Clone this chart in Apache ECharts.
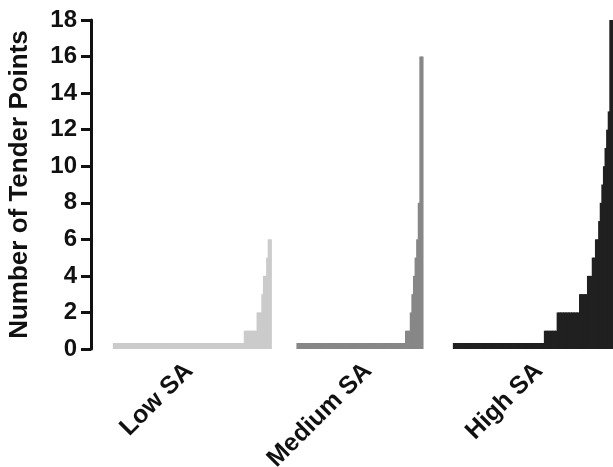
<!DOCTYPE html>
<html>
<head>
<meta charset="utf-8">
<title>Tender points by SA group</title>
<script src="https://cdn.jsdelivr.net/npm/echarts@6/dist/echarts.min.js"></script>
<style>
  html, body { margin: 0; padding: 0; background: #fff; }
  #chart { width: 613px; height: 467px; }
</style>
</head>
<body>
<div id="chart"></div>
<script>
// groups shown on the x axis
const groups = ["Low SA", "Medium SA", "High SA"];

// tender points per subject, sorted, one bar per subject
const lowSA = [
  0, 0, 0, 0, 0, 0, 0, 0, 0, 0, 0, 0, 0, 0, 0, 0, 0, 0, 0, 0,
  0, 0, 0, 0, 0, 0, 0, 0, 0, 0, 0, 0, 0, 0, 0, 0, 0, 0, 0, 0,
  0, 0, 0, 0, 0, 0, 0, 0, 0, 0, 0, 0, 0, 0, 0, 0, 0, 0, 0, 0,
  0, 0, 0, 0, 0, 0, 0, 0, 0, 0, 0, 0, 0, 0, 0, 0, 0, 0, 0, 0,
  0, 0,
  1, 1, 1, 1, 1, 1, 1, 1, 2, 2, 2, 3, 4, 4, 5, 6, 6
];
const mediumSA = [
  0, 0, 0, 0, 0, 0, 0, 0, 0, 0, 0, 0, 0, 0, 0, 0, 0, 0, 0, 0,
  0, 0, 0, 0, 0, 0, 0, 0, 0, 0, 0, 0, 0, 0, 0, 0, 0, 0, 0, 0,
  0, 0, 0, 0, 0, 0, 0, 0, 0, 0, 0, 0, 0, 0, 0, 0, 0, 0, 0, 0,
  0, 0, 0, 0, 0, 0, 0, 0,
  1, 1, 1, 2, 3, 4, 5, 6, 8, 16, 16
];
const highSA = [
  0, 0, 0, 0, 0, 0, 0, 0, 0, 0, 0, 0, 0, 0, 0, 0, 0, 0, 0, 0,
  0, 0, 0, 0, 0, 0, 0, 0, 0, 0, 0, 0, 0, 0, 0, 0, 0, 0, 0, 0,
  0, 0, 0, 0, 0, 0, 0, 0, 0, 0, 0, 0, 0, 0, 0, 0, 0,
  1, 1, 1, 1, 1, 1, 1, 1,
  2, 2, 2, 2, 2, 2, 2, 2, 2, 2, 2, 2, 2, 2,
  3, 3, 3, 3, 3, 4, 4, 4, 5, 5, 6, 6,
  7, 8, 9, 10, 11, 12, 13, 18, 18
];

// y axis ticks
const yTicks = [0, 2, 4, 6, 8, 10, 12, 14, 16, 18];

// layout: empty slots before / between groups, label position inside group
const gapsBefore = [14, 16, 19];
const labelPos = [0.47, 0.56, 0.53];
const colors = ["#cbcbcb", "#878787", "#202020"];
const font = "Liberation Sans, Arial, Helvetica, sans-serif";

const groupData = [lowSA, mediumSA, highSA];
const categories = [];
const labelAt = {};
const series = [];
const slots = []; // [group, value] per category

groupData.forEach((vals, g) => {
  for (let i = 0; i < gapsBefore[g]; i++) slots.push(null);
  const start = slots.length;
  vals.forEach((v) => slots.push([g, v]));
  labelAt[start + Math.round(vals.length * labelPos[g])] = groups[g];
});
slots.forEach((s, i) => categories.push("c" + i));

groupData.forEach((vals, g) => {
  series.push({
    name: groups[g],
    type: "bar",
    data: slots.map((s) => (s && s[0] === g ? s[1] : "-")),
    barGap: "-100%",
    barWidth: 2.6, // a bit wider than one slot so neighbours overlap, no seams
    barMinHeight: 6,
    itemStyle: { color: colors[g], borderWidth: 0 },
    emphasis: { disabled: true },
    animation: false,
  });
});

const chart = echarts.init(document.getElementById("chart"));
chart.setOption({
  backgroundColor: "#ffffff",
  animation: false,
  grid: { left: 91, right: 0, top: 20, bottom: 118, outerBoundsMode: "none" },
  xAxis: {
    type: "category",
    data: categories,
    boundaryGap: true,
    axisLine: { show: false },
    axisTick: { show: false },
    axisLabel: {
      interval: (index) => labelAt[index] !== undefined,
      formatter: (value, index) => labelAt[index] || "",
      rotate: 45,
      margin: 18,
      color: "#111",
      fontFamily: font,
      fontWeight: "bold",
      fontSize: 25,
    },
  },
  yAxis: {
    type: "value",
    min: yTicks[0],
    max: yTicks[yTicks.length - 1],
    interval: yTicks[1] - yTicks[0],
    name: "Number of Tender Points",
    nameLocation: "middle",
    nameRotate: 90,
    nameGap: 58,
    nameTextStyle: {
      color: "#111",
      fontFamily: font,
      fontWeight: "bold",
      fontSize: 26,
    },
    splitLine: { show: false },
    axisLine: { show: true, lineStyle: { color: "#111", width: 3 } },
    axisTick: { show: true, length: 10, lineStyle: { color: "#111", width: 3 } },
    axisLabel: {
      margin: 14,
      color: "#111",
      fontFamily: font,
      fontWeight: "bold",
      fontSize: 24,
    },
  },
  series: series,
});
</script>
</body>
</html>
